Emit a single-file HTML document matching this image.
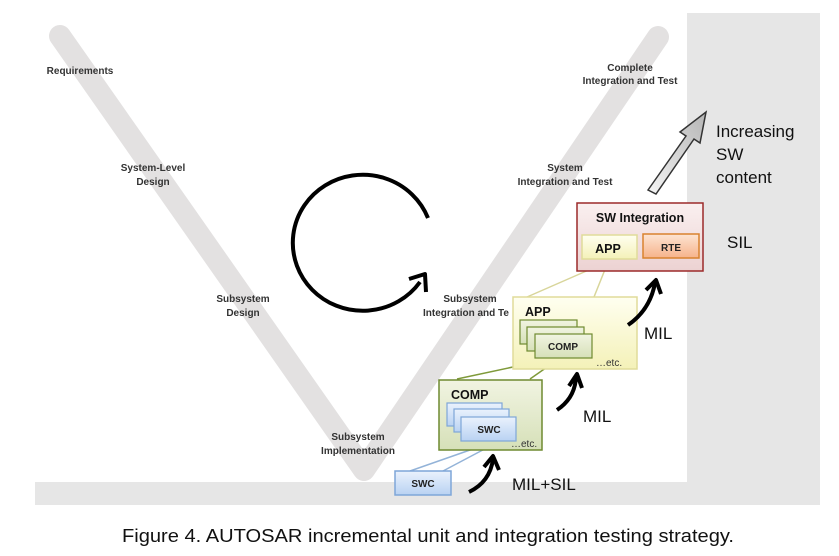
<!DOCTYPE html>
<html><head><meta charset="utf-8"><style>
html,body{margin:0;padding:0;background:#fff;}
svg{display:block;font-family:"Liberation Sans",Arial,sans-serif;}
.s{font-size:10px;font-weight:bold;fill:#333;text-anchor:middle;}
</style></head><body>
<svg width="839" height="556" viewBox="0 0 839 556" xmlns="http://www.w3.org/2000/svg">
<defs>
<linearGradient id="gy" x1="0" y1="0" x2="0" y2="1"><stop offset="0" stop-color="#fffff0"/><stop offset="1" stop-color="#f4f1b8"/></linearGradient>
<linearGradient id="gg" x1="0" y1="0" x2="0" y2="1"><stop offset="0" stop-color="#f1f4e2"/><stop offset="1" stop-color="#d6e0b8"/></linearGradient>
<linearGradient id="gb" x1="0" y1="0" x2="0" y2="1"><stop offset="0" stop-color="#eaf2fd"/><stop offset="1" stop-color="#b9d2f2"/></linearGradient>
<linearGradient id="go" x1="0" y1="0" x2="0" y2="1"><stop offset="0" stop-color="#fde4d2"/><stop offset="1" stop-color="#f6b38a"/></linearGradient>
<linearGradient id="gr" x1="0" y1="0" x2="0" y2="1"><stop offset="0" stop-color="#faf0f0"/><stop offset="1" stop-color="#ecd2d2"/></linearGradient>
<linearGradient id="ga" x1="0" y1="1" x2="1" y2="0"><stop offset="0" stop-color="#f5f5f5"/><stop offset="1" stop-color="#b5b5b5"/></linearGradient>
</defs>
<rect x="687" y="13" width="133" height="492" fill="#e6e6e6"/>
<rect x="35" y="482" width="785" height="23" fill="#e6e6e6"/>
<polyline points="60,36 364,470 658,37" fill="none" stroke="#e3e1e1" stroke-width="22" stroke-linecap="round" stroke-linejoin="round"/>
<text class="s" x="80" y="74">Requirements</text>
<text class="s" x="153" y="171">System-Level</text><text class="s" x="153" y="185">Design</text>
<text class="s" x="243" y="302">Subsystem</text><text class="s" x="243" y="316">Design</text>
<text class="s" x="358" y="440">Subsystem</text><text class="s" x="358" y="454">Implementation</text>
<text class="s" x="630" y="71">Complete</text><text class="s" x="630" y="84">Integration and Test</text>
<text class="s" x="565" y="171">System</text><text class="s" x="565" y="185">Integration and Test</text>
<text class="s" x="470" y="302">Subsystem</text><text class="s" x="466" y="316">Integration and Te</text>
<path d="M428,218 A70,68 0 1 0 420,282" fill="none" stroke="#000" stroke-width="4"/>
<path d="M409,279 L425,274 L426,292" fill="none" stroke="#000" stroke-width="4" stroke-linejoin="round"/>
<path d="M648,190 L686,136 L680,132 L706,112 L700,143 L694,139 L656,194 Z" fill="url(#ga)" stroke="#333" stroke-width="1.5"/>
<text x="716" y="137" font-size="17" fill="#111">Increasing</text>
<text x="716" y="160" font-size="17" fill="#111">SW</text>
<text x="716" y="183" font-size="17" fill="#111">content</text>
<text x="727" y="248" font-size="17" fill="#111">SIL</text>
<text x="644" y="339" font-size="17" fill="#111">MIL</text>
<text x="583" y="422" font-size="17" fill="#111">MIL</text>
<text x="512" y="490" font-size="17" fill="#111">MIL+SIL</text>
<line x1="607" y1="262" x2="527" y2="297" stroke="#d8d59a" stroke-width="1.5"/>
<line x1="608" y1="262" x2="594" y2="297" stroke="#d8d59a" stroke-width="1.5"/>
<line x1="555" y1="358" x2="457" y2="379" stroke="#7f9a3a" stroke-width="1.5"/>
<line x1="560" y1="358" x2="530" y2="379" stroke="#7f9a3a" stroke-width="1.5"/>
<line x1="490" y1="443" x2="410" y2="471" stroke="#93b3d8" stroke-width="1.5"/>
<line x1="496" y1="443" x2="443" y2="471" stroke="#93b3d8" stroke-width="1.5"/>
<rect x="577" y="203" width="126" height="68" fill="url(#gr)" stroke="#9c2a2a" stroke-width="1.5"/>
<text x="640" y="222" font-size="12.5" font-weight="bold" text-anchor="middle" fill="#111">SW Integration</text>
<rect x="582" y="235" width="55" height="24" fill="url(#gy)" stroke="#e0dc9a" stroke-width="1.5"/>
<text x="608" y="253" font-size="12.5" font-weight="bold" text-anchor="middle" fill="#111">APP</text>
<rect x="643" y="234" width="56" height="24" fill="url(#go)" stroke="#d9822e" stroke-width="1.5"/>
<text x="671" y="251" font-size="10" font-weight="bold" text-anchor="middle" fill="#222">RTE</text>
<rect x="513" y="297" width="124" height="72" fill="url(#gy)" stroke="#e0dc9a" stroke-width="1.5"/>
<text x="525" y="316" font-size="12.5" font-weight="bold" fill="#111">APP</text>
<rect x="520" y="320" width="57" height="24" fill="url(#gg)" stroke="#6f8a30" stroke-width="1.2"/>
<rect x="527" y="327" width="57" height="24" fill="url(#gg)" stroke="#6f8a30" stroke-width="1.2"/>
<rect x="535" y="334" width="57" height="24" fill="url(#gg)" stroke="#6f8a30" stroke-width="1.2"/>
<text x="563" y="350" font-size="10" font-weight="bold" text-anchor="middle" fill="#222">COMP</text>
<text x="596" y="366" font-size="10" fill="#333">…etc.</text>
<rect x="439" y="380" width="103" height="70" fill="url(#gg)" stroke="#6f8a30" stroke-width="1.5"/>
<text x="451" y="399" font-size="12.5" font-weight="bold" fill="#111">COMP</text>
<rect x="447" y="403" width="55" height="23" fill="url(#gb)" stroke="#7ea6d8" stroke-width="1.2"/>
<rect x="454" y="409" width="55" height="23" fill="url(#gb)" stroke="#7ea6d8" stroke-width="1.2"/>
<rect x="461" y="417" width="55" height="24" fill="url(#gb)" stroke="#7ea6d8" stroke-width="1.2"/>
<text x="489" y="433" font-size="10" font-weight="bold" text-anchor="middle" fill="#222">SWC</text>
<text x="511" y="447" font-size="10" fill="#333">…etc.</text>
<rect x="395" y="471" width="56" height="24" fill="url(#gb)" stroke="#7ea6d8" stroke-width="1.5"/>
<text x="423" y="487" font-size="10" font-weight="bold" text-anchor="middle" fill="#222">SWC</text>
<g fill="none" stroke="#000" stroke-width="4" stroke-linejoin="round">
<path d="M628,325 Q650,310 655,283"/><path d="M646,290 L656,280 L661,294"/>
<path d="M557,410 Q575,398 576,377"/><path d="M569,386 L577,374 L582,388"/>
<path d="M469,492 Q490,482 493,459"/><path d="M484,467 L493,456 L499,470"/>
</g>
<text x="122" y="542" font-size="18" fill="#111" textLength="612" lengthAdjust="spacingAndGlyphs">Figure 4. AUTOSAR incremental unit and integration testing strategy.</text>
</svg>
</body></html>
